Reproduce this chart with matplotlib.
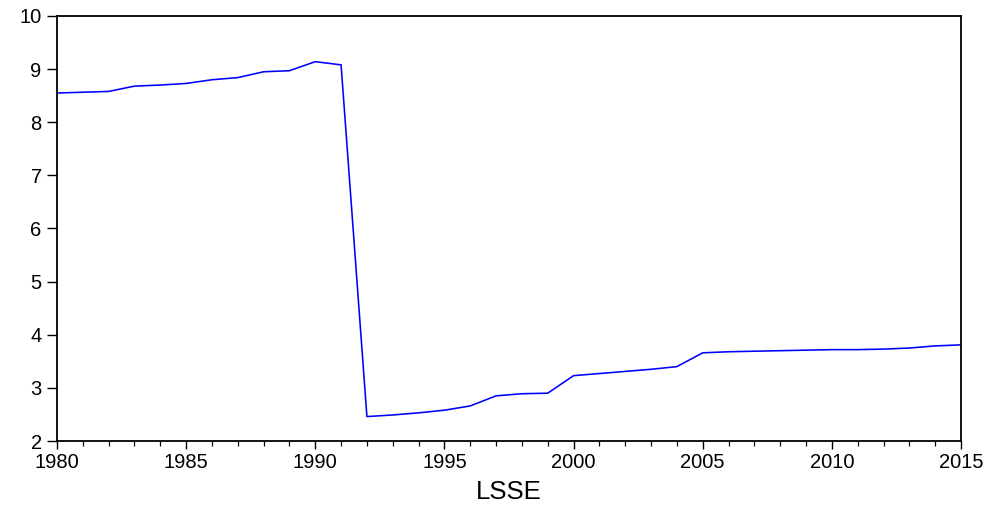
import matplotlib
matplotlib.use("Agg")
import matplotlib.pyplot as plt
from matplotlib.ticker import MultipleLocator

years = list(range(1980, 2016))
lsse = [8.55, 8.565, 8.58, 8.68, 8.70, 8.73, 8.80, 8.84, 8.95, 8.97,
        9.14, 9.08, 2.46, 2.49, 2.53, 2.58, 2.66, 2.85, 2.89, 2.90,
        3.23, 3.27, 3.31, 3.35, 3.40, 3.66, 3.68, 3.69, 3.70, 3.71,
        3.72, 3.72, 3.73, 3.75, 3.79, 3.81]
xticks = [1980, 1985, 1990, 1995, 2000, 2005, 2010, 2015]
yticks = [2, 3, 4, 5, 6, 7, 8, 9, 10]
title = "LSSE"

plt.rcParams['font.family'] = ['Liberation Sans', 'DejaVu Sans']

fig = plt.figure(figsize=(9.94, 5.14), dpi=100)
ax = fig.add_axes([0.0573, 0.142, 0.9095, 0.8269])
ax.plot(years, lsse, color='#0000ff', linewidth=1.15)
ax.set_xlim(1980, 2015)
ax.set_ylim(2, 10)
ax.set_xticks(xticks)
ax.set_xticklabels([str(t) for t in xticks])
ax.set_yticks(yticks)
ax.set_yticklabels([str(t) for t in yticks])
ax.xaxis.set_minor_locator(MultipleLocator(1))
ax.tick_params(axis='both', which='major', labelsize=14.5, direction='out', width=1.0, color='black')
ax.tick_params(axis='x', which='major', length=5.5, pad=3)
ax.tick_params(axis='x', which='minor', length=3.5, width=0.9)
ax.tick_params(axis='y', which='major', length=7, pad=4)
for s in ax.spines.values():
    s.set_linewidth(1.3)
    s.set_color('black')
ax.set_xlabel(title, fontsize=18.5, labelpad=6)
fig.savefig("out.png", dpi=100)
